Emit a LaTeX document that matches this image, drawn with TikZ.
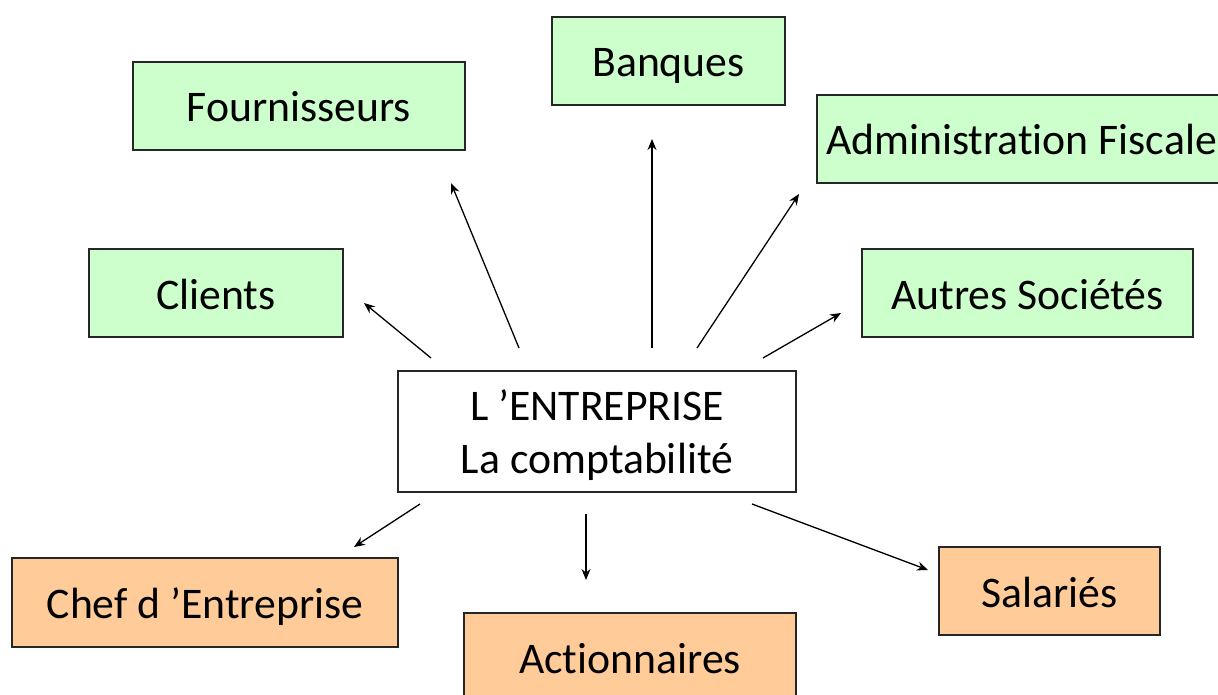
\documentclass[tikz,border=0pt]{standalone}
\usepackage{fontspec}
\setmainfont{Carlito}[Ligatures=NoCommon]
\usetikzlibrary{arrows.meta}
\definecolor{partgreen}{HTML}{CCFFCC}
\definecolor{partorange}{HTML}{FFCC99}
\definecolor{edgegray}{HTML}{262626}
\begin{document}
\begin{tikzpicture}[x=1pt,y=-1pt,
  box/.style={draw=edgegray,line width=1.4pt,inner sep=0pt,
    font=\fontsize{43.7}{53}\selectfont,align=center},
  oneline/.style={box,text height=32pt,text depth=0pt},
  ext/.style={oneline,fill=partgreen},
  int/.style={oneline,fill=partorange},
  link/.style={line width=1.3pt,-{Stealth[length=11pt,width=9pt]}}]
\useasboundingbox (0,0) rectangle (1218,695);
\clip (0,0) rectangle (1218,695);
% central node
\node[box,fill=white,text height=83pt,text depth=0pt,
  minimum width=398pt,minimum height=121pt] (ent) at (597,431.5)
  {L ’ENTREPRISE\\La comptabilité};
% external partners
\node[ext,minimum width=332pt,minimum height=88pt] (four) at (299,106) {Fournisseurs};
\node[ext,minimum width=233pt,minimum height=88pt] (banq) at (668.5,61) {Banques};
\node[ext,minimum width=409pt,minimum height=88pt] (adm) at (1021.5,139) {Administration Fiscale};
\node[ext,minimum width=254pt,minimum height=88pt] (cli) at (216,293) {Clients};
\node[ext,minimum width=331pt,minimum height=88pt] (autr) at (1027.5,293) {Autres Sociétés};
% internal partners
\node[int,minimum width=386pt,minimum height=89pt] (chef) at (205,602.5) {Chef d ’Entreprise};
\node[int,minimum width=332pt,minimum height=88pt] (act) at (630,657) {Actionnaires};
\node[int,minimum width=221pt,minimum height=88pt] (sal) at (1049.5,591) {Salariés};
% arrow ends
\coordinate (cliS) at (431,358);  \coordinate (cliT) at (364,303);
\coordinate (fouS) at (519,348);  \coordinate (fouT) at (451,183);
\coordinate (banS) at (652,348);  \coordinate (banT) at (652,139);
\coordinate (admS) at (697,348);  \coordinate (admT) at (799,194);
\coordinate (autS) at (763,358);  \coordinate (autT) at (841,313);
\coordinate (cheS) at (420,504);  \coordinate (cheT) at (354,547);
\coordinate (actS) at (586,514);  \coordinate (actT) at (586,580);
\coordinate (salS) at (752,504);  \coordinate (salT) at (928,570);
% arrows
\draw[link] (cliS) -- (cliT);
\draw[link] (fouS) -- (fouT);
\draw[link] (banS) -- (banT);
\draw[link] (admS) -- (admT);
\draw[link] (autS) -- (autT);
\draw[link] (cheS) -- (cheT);
\draw[link] (actS) -- (actT);
\draw[link] (salS) -- (salT);
\end{tikzpicture}
\end{document}
